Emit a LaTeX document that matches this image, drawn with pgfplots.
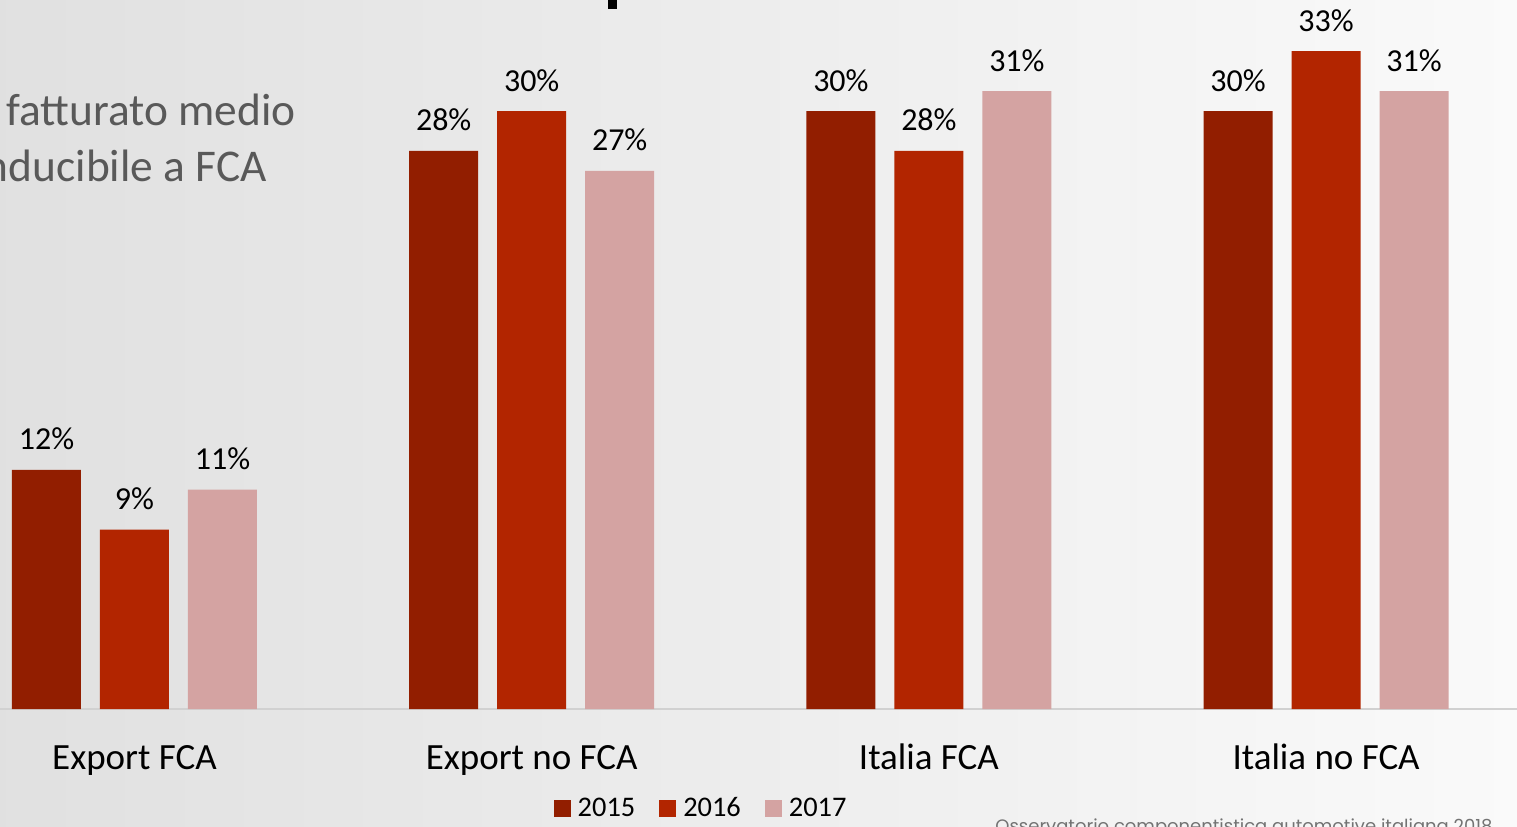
\documentclass[border=0pt]{standalone}
\usepackage{fontspec}
\setmainfont{Carlito}
\newfontfamily\popfont{Poppins}
\usepackage{pgfplots}
\pgfplotsset{compat=1.18}
\definecolor{cA}{HTML}{921E00}
\definecolor{cB}{HTML}{B22500}
\definecolor{cC}{HTML}{D4A3A2}
\definecolor{txtgray}{HTML}{595959}
\begin{document}
\begin{tikzpicture}[x=1pt,y=1pt]
\useasboundingbox (0,-58.5) rectangle (758.5,354.5);
\clip (0,-58.5) rectangle (758.5,354.5);
\shade[left color=black!12, right color=black!2] (0,-58.5) rectangle (758.5,354.5);
\node[anchor=base east, inner sep=0pt, font=\fontsize{22.7}{27}\selectfont, text=txtgray] at (148,291.5) {Quota di fatturato medio};
\node[anchor=base east, inner sep=0pt, font=\fontsize{22.7}{27}\selectfont, text=txtgray] at (133.5,263.5) {riconducibile a FCA};
\fill[black] (304,350) rectangle (308.5,356);
\node[anchor=base west, inner sep=0pt, font=\popfont\fontsize{9}{10}\selectfont, text=black!55] at (497.5,-61.5) {Osservatorio componentistica automotive italiana 2018};
\begin{axis}[
  at={(0,0)}, anchor=south west,
  scale only axis, width=758.5pt, height=354.5pt,
  xmin=-0.3386, xmax=3.4806, ymin=0, ymax=35.57,
  clip=false,
  ybar=9.5pt, bar width=34.5pt,
  axis x line*=bottom, axis y line=none,
  x axis line style={draw=black!18, line width=1pt, -},
  xtick={0,1,2,3},
  xticklabels={Export FCA, Export no FCA, Italia FCA, Italia no FCA},
  major tick length=0pt,
  xticklabel style={anchor=base, yshift=-30pt, font=\fontsize{18.5}{21}\selectfont, text=black},
  /pgf/number format/assume math mode=true,
  nodes near coords={\pgfmathprintnumber{\pgfplotspointmeta}\%},
  every node near coord/.append style={anchor=base, yshift=10pt, font=\fontsize{16}{19}\selectfont, text=black},
  legend style={at={(0.4628,0)}, anchor=center, yshift=-49.75pt, draw=none, fill=none,
    legend columns=-1, font=\fontsize{14.2}{16}\selectfont,
    /tikz/every odd column/.append style={column sep=1.5pt},
    /tikz/every even column/.append style={column sep=10pt}},
  legend image code/.code={\fill[#1] (0pt,-4.25pt) rectangle (8.5pt,4.25pt);},
]
\addplot[fill=cA, draw=none] coordinates {(0,12) (1,28) (2,30) (3,30)};
\addplot[fill=cB, draw=none] coordinates {(0,9) (1,30) (2,28) (3,33)};
\addplot[fill=cC, draw=none] coordinates {(0,11) (1,27) (2,31) (3,31)};
\legend{2015,2016,2017}
\end{axis}
\end{tikzpicture}
\end{document}
